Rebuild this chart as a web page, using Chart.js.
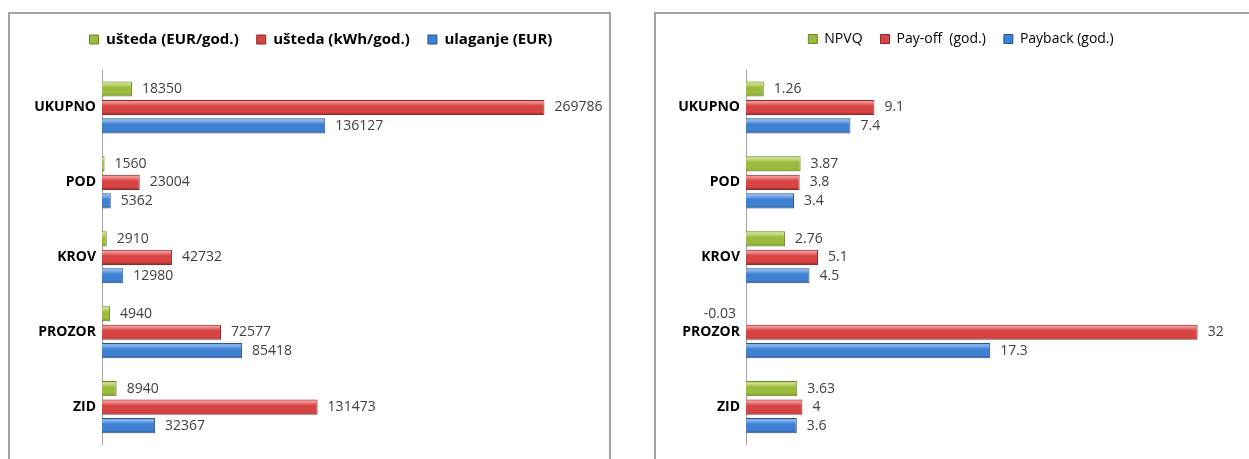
<!DOCTYPE html>
<html>
<head>
<meta charset="utf-8">
<script src="https://cdn.jsdelivr.net/npm/chart.js@4.4.0/dist/chart.umd.min.js"></script>
<style>
    html, body { margin: 0; padding: 0; background: #fff; width: 1249px; height: 459px; overflow: hidden; }
    .frame { position: absolute; border: 2px solid #a3a3a3; background: #fff; }
    #leftFrame { left: 8px; top: 12px; width: 599px; height: 480px; }
    #rightFrame { left: 654px; top: 12px; width: 640px; height: 480px; }
    canvas { position: absolute; z-index: 2; }
    #savingsChart { left: 10px; top: 14px; }
    #paybackChart { left: 656px; top: 14px; }
</style>
</head>
<body>
<div class="frame" id="leftFrame"></div>
<div class="frame" id="rightFrame"></div>
<canvas id="savingsChart" width="622" height="445"></canvas>
<canvas id="paybackChart" width="610" height="445"></canvas>
<script>
const categories = ['UKUPNO', 'POD', 'KROV', 'PROZOR', 'ZID'];

const savingsEur = [18350, 1560, 2910, 4940, 8940];
const savingsKwh = [269786, 23004, 42732, 72577, 131473];
const investmentEur = [136127, 5362, 12980, 85418, 32367];

const npvq = [1.26, 3.87, 2.76, -0.03, 3.63];
const payOff = [9.1, 3.8, 5.1, 32, 4];
const payback = [7.4, 3.4, 4.5, 17.3, 3.6];

const colors = {
    green: { base: '#9bbb3e', top: '#cfe38c', bottom: '#6f8a24', edge: '#6a8226' },
    red: { base: '#d84444', top: '#f49a9a', bottom: '#9c2626', edge: '#8e2a2a' },
    blue: { base: '#3f80d2', top: '#8dbcf2', bottom: '#285a9c', edge: '#2a5590' }
};

Chart.defaults.font.family = "'Open Sans', 'Noto Sans', sans-serif";
Chart.defaults.color = '#404040';

// makes room under the legend so the plot starts where it does in the picture,
// and lets the legend centre on the whole canvas instead of the padded box
const legendSpace = {
    id: 'legendSpace',
    beforeLayout(chart, args, opts) {
        const legend = chart.legend;
        if (!legend || legend._patched) return;
        const fit = legend.fit;
        legend.fit = function () {
            fit.call(this);
            this.height = opts.height;
        };
        legend._patched = true;
    },
    afterLayout(chart) {
        if (!chart.legend) return;
        chart.legend.left = 0;
        chart.legend.right = chart.width;
    }
};

// bevelled look: each bar gets its own vertical gradient
const barShade = {
    id: 'barShade',
    beforeDatasetsDraw(chart) {
        const ctx = chart.ctx;
        chart.data.datasets.forEach((ds, i) => {
            const meta = chart.getDatasetMeta(i);
            const c = ds.shade;
            meta.data.forEach(bar => {
                const h = bar.height;
                const g = ctx.createLinearGradient(0, bar.y - h / 2, 0, bar.y + h / 2);
                g.addColorStop(0, c.base);
                g.addColorStop(0.12, c.top);
                g.addColorStop(0.4, c.base);
                g.addColorStop(0.8, c.base);
                g.addColorStop(1, c.bottom);
                bar.options.backgroundColor = g;
            });
        });
    }
};

const valueLabels = {
    id: 'valueLabels',
    afterDatasetsDraw(chart) {
        const ctx = chart.ctx;
        const zero = chart.scales.x.getPixelForValue(0);
        ctx.save();
        ctx.font = "14px 'Open Sans'";
        ctx.fillStyle = '#404040';
        ctx.textBaseline = 'middle';
        chart.data.datasets.forEach((ds, i) => {
            chart.getDatasetMeta(i).data.forEach((bar, j) => {
                const v = ds.data[j];
                if (v < 0) {
                    ctx.textAlign = 'right';
                    ctx.fillText(String(v), zero - 10, bar.y);
                } else {
                    ctx.textAlign = 'left';
                    ctx.fillText(String(v), bar.x + 10, bar.y);
                }
            });
        });
        ctx.restore();
    }
};

const makeDataset = (label, data, shade) => ({
    label,
    data,
    shade,
    backgroundColor: () => shade.base,
    borderColor: shade.edge,
    borderWidth: 1,
    categoryPercentage: 0.74,
    barPercentage: 0.82
});

const makeChart = (id, datasets, xMax, axisWidth, padRight, legendFont) => {
    new Chart(document.getElementById(id), {
        type: 'bar',
        data: { labels: categories, datasets },
        options: {
            indexAxis: 'y',
            responsive: false,
            animation: false,
            layout: { padding: { top: 0, right: padRight, bottom: 13, left: 0 } },
            scales: {
                x: { display: false, min: 0, max: xMax },
                y: {
                    grid: { display: false, drawTicks: false },
                    border: { display: true, color: '#a6a6a6' },
                    ticks: { color: '#000', padding: 6, font: { size: 14, weight: 'bold' } },
                    afterFit: (scale) => { scale.width = axisWidth; }
                }
            },
            plugins: {
                legendSpace: { height: 56 },
                legend: {
                    position: 'top',
                    labels: {
                        boxWidth: 9,
                        boxHeight: 9,
                        padding: 18,
                        color: '#000',
                        font: legendFont
                    }
                },
                tooltip: { enabled: false }
            }
        },
        plugins: [legendSpace, barShade, valueLabels]
    });
};

makeChart('savingsChart', [
    makeDataset('ušteda (EUR/god.)', savingsEur, colors.green),
    makeDataset('ušteda (kWh/god.)', savingsKwh, colors.red),
    makeDataset('ulaganje (EUR)', investmentEur, colors.blue)
], 300000, 92, 38, { size: 15, weight: 'bold' });

makeChart('paybackChart', [
    makeDataset('NPVQ', npvq, colors.green),
    makeDataset('Pay-off  (god.)', payOff, colors.red),
    makeDataset('Payback (god.)', payback, colors.blue)
], 35, 90, 26, { size: 14 });
</script>
</body>
</html>
